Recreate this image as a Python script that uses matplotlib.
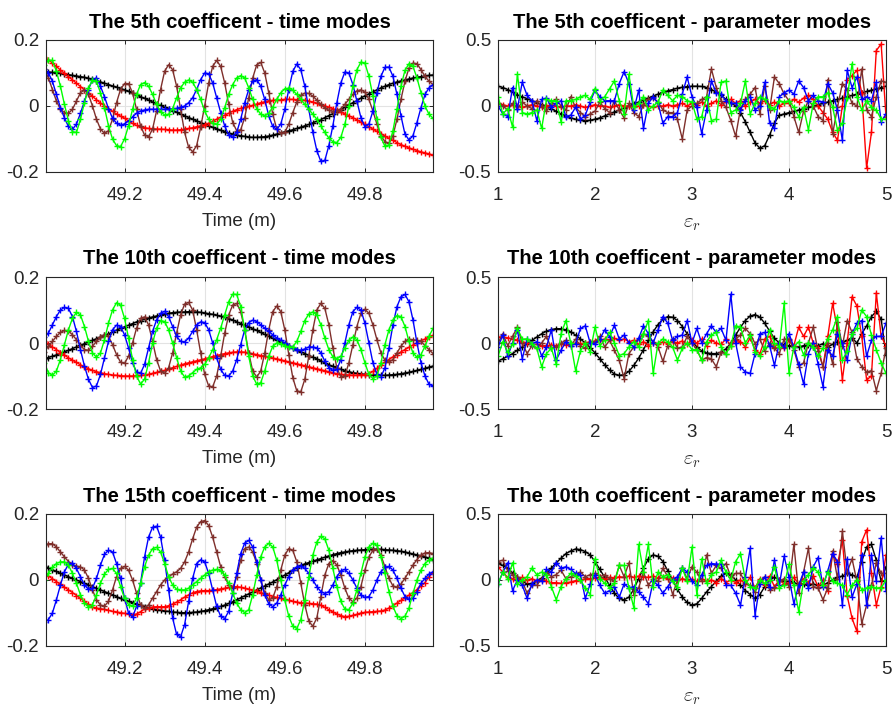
import numpy as np
import matplotlib
matplotlib.use("Agg")
import matplotlib.pyplot as plt

plt.rcParams['font.family'] = ['Liberation Sans', 'DejaVu Sans']
plt.rcParams['mathtext.fontset'] = 'cm'

# sample grids
time_m = np.round(49.0 + 0.01 * np.arange(98), 2)
eps_r = np.round(1.0 + 0.05 * np.arange(81), 2)

# ---- 5th coefficient, time modes ----
black5t = [
    0.104, 0.103, 0.102, 0.101, 0.099, 0.097, 0.095, 0.093, 0.091, 0.089,
    0.087, 0.084, 0.081, 0.077, 0.073, 0.069, 0.065, 0.061, 0.057, 0.053,
    0.049, 0.044, 0.039, 0.034, 0.028, 0.023, 0.018, 0.012, 0.007, 0.002,
    -0.004, -0.009, -0.014, -0.019, -0.025, -0.030, -0.035, -0.040, -0.045, -0.050,
    -0.055, -0.060, -0.065, -0.069, -0.074, -0.078, -0.082, -0.085, -0.088, -0.090,
    -0.092, -0.094, -0.095, -0.095, -0.094, -0.093, -0.091, -0.088, -0.085, -0.082,
    -0.078, -0.075, -0.072, -0.068, -0.064, -0.060, -0.056, -0.051, -0.046, -0.041,
    -0.035, -0.029, -0.023, -0.017, -0.011, -0.004, 0.004, 0.010, 0.016, 0.024,
    0.031, 0.037, 0.043, 0.049, 0.055, 0.060, 0.065, 0.069, 0.073, 0.076,
    0.079, 0.082, 0.085, 0.087, 0.089, 0.091, 0.093, 0.094]
red5t = [
    0.148, 0.140, 0.130, 0.120, 0.109, 0.099, 0.089, 0.079, 0.069, 0.059,
    0.049, 0.039, 0.029, 0.019, 0.009, 0.000, -0.008, -0.016, -0.024, -0.031,
    -0.037, -0.045, -0.053, -0.059, -0.063, -0.066, -0.068, -0.069, -0.070, -0.070,
    -0.071, -0.072, -0.073, -0.073, -0.072, -0.070, -0.068, -0.066, -0.063, -0.060,
    -0.057, -0.052, -0.046, -0.040, -0.034, -0.028, -0.022, -0.016, -0.011, -0.007,
    -0.004, -0.001, 0.002, 0.006, 0.010, 0.013, 0.016, 0.017, 0.018, 0.019,
    0.020, 0.020, 0.020, 0.019, 0.018, 0.017, 0.015, 0.012, 0.008, 0.004,
    0.000, -0.004, -0.008, -0.013, -0.018, -0.024, -0.030, -0.035, -0.042, -0.049,
    -0.056, -0.063, -0.070, -0.077, -0.084, -0.091, -0.098, -0.104, -0.111, -0.117,
    -0.122, -0.127, -0.131, -0.135, -0.139, -0.142, -0.145, -0.149]
blue5t = [
    0.111, 0.100, 0.075, 0.035, -0.005, -0.036, -0.062, -0.071, -0.055, -0.022,
    0.015, 0.050, 0.080, 0.085, 0.060, 0.028, -0.008, -0.037, -0.052, -0.058,
    -0.054, -0.045, -0.033, -0.022, -0.015, -0.012, -0.010, -0.010, -0.010, -0.010,
    -0.010, -0.010, -0.009, -0.007, -0.004, 0.000, 0.010, 0.025, 0.050, 0.080,
    0.100, 0.098, 0.070, 0.025, -0.020, -0.060, -0.088, -0.095, -0.080, -0.040,
    0.010, 0.050, 0.075, 0.080, 0.060, 0.020, -0.030, -0.062, -0.071, -0.055,
    -0.010, 0.050, 0.105, 0.127, 0.110, 0.060, -0.010, -0.080, -0.135, -0.168,
    -0.165, -0.120, -0.060, 0.010, 0.070, 0.103, 0.100, 0.065, 0.015, -0.035,
    -0.063, -0.055, -0.015, 0.040, 0.090, 0.117, 0.118, 0.090, 0.035, -0.030,
    -0.085, -0.103, -0.090, -0.050, -0.005, 0.035, 0.055, 0.064]
green5t = [
    0.125, 0.138, 0.138, 0.105, 0.060, 0.005, -0.045, -0.078, -0.080, -0.040,
    0.010, 0.055, 0.078, 0.075, 0.040, -0.005, -0.060, -0.100, -0.120, -0.123,
    -0.100, -0.060, -0.010, 0.035, 0.065, 0.071, 0.060, 0.035, 0.005, -0.018,
    -0.027, -0.025, -0.008, 0.025, 0.055, 0.072, 0.079, 0.072, 0.050, 0.020,
    -0.015, -0.040, -0.053, -0.056, -0.040, -0.005, 0.035, 0.065, 0.085, 0.092,
    0.085, 0.055, 0.020, -0.008, -0.025, -0.030, -0.022, -0.003, 0.020, 0.040,
    0.052, 0.054, 0.048, 0.035, 0.020, 0.005, -0.010, -0.025, -0.040, -0.060,
    -0.080, -0.097, -0.108, -0.111, -0.095, -0.055, 0.000, 0.060, 0.110, 0.133,
    0.130, 0.090, 0.030, -0.040, -0.095, -0.122, -0.118, -0.075, -0.010, 0.060,
    0.108, 0.128, 0.120, 0.085, 0.040, 0.000, -0.025, -0.037]
brown5t = [
    0.112, 0.085, 0.050, 0.015, -0.010, -0.020, -0.022, -0.010, 0.015, 0.040,
    0.049, 0.035, 0.000, -0.040, -0.070, -0.083, -0.075, -0.040, 0.010, 0.050,
    0.068, 0.068, 0.040, -0.010, -0.060, -0.088, -0.093, -0.070, -0.015, 0.050,
    0.105, 0.125, 0.110, 0.060, -0.010, -0.080, -0.125, -0.139, -0.120, -0.065,
    0.000, 0.070, 0.120, 0.138, 0.120, 0.070, 0.005, -0.050, -0.075, -0.072,
    -0.035, 0.025, 0.085, 0.125, 0.132, 0.100, 0.040, -0.025, -0.070, -0.083,
    -0.080, -0.055, -0.020, 0.012, 0.032, 0.039, 0.038, 0.030, 0.018, 0.005,
    -0.006, -0.013, -0.017, -0.015, -0.008, 0.005, 0.020, 0.035, 0.046, 0.049,
    0.042, 0.020, -0.015, -0.055, -0.090, -0.108, -0.113, -0.090, -0.040, 0.020,
    0.075, 0.115, 0.130, 0.128, 0.110, 0.090, 0.075, 0.065]

# ---- 10th coefficient, time modes ----
black10t = [
    -0.048, -0.044, -0.040, -0.036, -0.031, -0.027, -0.022, -0.017, -0.012, -0.007,
    -0.002, 0.003, 0.008, 0.013, 0.018, 0.023, 0.028, 0.033, 0.039, 0.044,
    0.049, 0.054, 0.059, 0.064, 0.068, 0.072, 0.076, 0.079, 0.082, 0.085,
    0.088, 0.090, 0.092, 0.093, 0.094, 0.094, 0.095, 0.094, 0.094, 0.093,
    0.091, 0.089, 0.087, 0.084, 0.081, 0.078, 0.074, 0.070, 0.064, 0.059,
    0.054, 0.049, 0.043, 0.038, 0.032, 0.026, 0.020, 0.014, 0.008, 0.002,
    -0.004, -0.010, -0.016, -0.022, -0.027, -0.032, -0.038, -0.043, -0.048, -0.054,
    -0.060, -0.066, -0.071, -0.076, -0.080, -0.084, -0.087, -0.090, -0.092, -0.094,
    -0.095, -0.096, -0.097, -0.098, -0.098, -0.098, -0.097, -0.096, -0.095, -0.093,
    -0.091, -0.089, -0.086, -0.083, -0.080, -0.077, -0.073, -0.070]
red10t = [
    0.006, -0.003, -0.012, -0.020, -0.029, -0.037, -0.045, -0.052, -0.059, -0.066,
    -0.073, -0.078, -0.083, -0.087, -0.090, -0.093, -0.095, -0.097, -0.098, -0.099,
    -0.100, -0.100, -0.100, -0.099, -0.098, -0.097, -0.095, -0.092, -0.089, -0.086,
    -0.083, -0.079, -0.075, -0.071, -0.067, -0.063, -0.060, -0.057, -0.054, -0.051,
    -0.048, -0.045, -0.041, -0.038, -0.035, -0.032, -0.030, -0.028, -0.027, -0.027,
    -0.028, -0.030, -0.033, -0.035, -0.038, -0.040, -0.043, -0.046, -0.048, -0.051,
    -0.054, -0.057, -0.060, -0.063, -0.066, -0.069, -0.072, -0.075, -0.078, -0.081,
    -0.084, -0.087, -0.090, -0.093, -0.095, -0.096, -0.097, -0.098, -0.098, -0.097,
    -0.096, -0.093, -0.086, -0.077, -0.067, -0.058, -0.050, -0.042, -0.035, -0.027,
    -0.020, -0.013, -0.006, 0.001, 0.007, 0.012, 0.018, 0.023]
blue10t = [
    0.018, 0.030, 0.055, 0.080, 0.100, 0.108, 0.105, 0.080, 0.035, -0.020,
    -0.070, -0.110, -0.135, -0.130, -0.095, -0.045, 0.005, 0.040, 0.054, 0.050,
    0.025, -0.015, -0.060, -0.088, -0.092, -0.065, -0.015, 0.035, 0.070, 0.090,
    0.096, 0.080, 0.050, 0.020, 0.005, 0.003, 0.015, 0.035, 0.055, 0.064,
    0.062, 0.040, 0.000, -0.045, -0.080, -0.098, -0.100, -0.085, -0.050, -0.005,
    0.040, 0.062, 0.069, 0.065, 0.055, 0.045, 0.035, 0.025, 0.015, 0.008,
    0.000, -0.008, -0.015, -0.020, -0.022, -0.018, -0.012, -0.012, -0.015, -0.030,
    -0.055, -0.075, -0.083, -0.080, -0.050, 0.000, 0.055, 0.095, 0.108, 0.100,
    0.060, 0.000, -0.060, -0.095, -0.103, -0.075, -0.015, 0.055, 0.110, 0.140,
    0.147, 0.125, 0.070, 0.000, -0.060, -0.100, -0.125, -0.130]
green10t = [
    -0.060, -0.090, -0.098, -0.085, -0.050, -0.005, 0.040, 0.075, 0.093, 0.085,
    0.050, 0.005, -0.030, -0.043, -0.030, 0.010, 0.060, 0.100, 0.122, 0.115,
    0.075, 0.015, -0.050, -0.100, -0.124, -0.110, -0.060, 0.000, 0.045, 0.068,
    0.065, 0.040, 0.000, -0.045, -0.085, -0.103, -0.100, -0.090, -0.080, -0.075,
    -0.065, -0.045, -0.020, 0.010, 0.045, 0.085, 0.125, 0.148, 0.147, 0.110,
    0.040, -0.040, -0.100, -0.125, -0.120, -0.085, -0.040, -0.010, 0.000, -0.002,
    -0.008, -0.012, -0.012, 0.005, 0.035, 0.068, 0.088, 0.094, 0.085, 0.055,
    0.015, -0.020, -0.042, -0.048, -0.040, -0.015, 0.008, 0.018, 0.010, -0.020,
    -0.060, -0.095, -0.108, -0.100, -0.060, -0.005, 0.040, 0.070, 0.083, 0.080,
    0.050, 0.005, -0.030, -0.043, -0.035, -0.010, 0.020, 0.044]
brown10t = [
    -0.027, -0.010, 0.005, 0.020, 0.032, 0.038, 0.036, 0.025, 0.010, -0.008,
    -0.020, -0.022, -0.010, 0.005, 0.018, 0.025, 0.020, -0.005, -0.035, -0.058,
    -0.062, -0.040, 0.000, 0.045, 0.075, 0.079, 0.055, 0.005, -0.050, -0.085,
    -0.092, -0.075, -0.030, 0.030, 0.085, 0.118, 0.123, 0.100, 0.040, -0.030,
    -0.095, -0.130, -0.133, -0.100, -0.040, 0.030, 0.085, 0.115, 0.120, 0.095,
    0.040, -0.030, -0.085, -0.103, -0.085, -0.030, 0.040, 0.095, 0.112, 0.095,
    0.040, -0.035, -0.105, -0.145, -0.148, -0.110, -0.040, 0.040, 0.100, 0.120,
    0.105, 0.055, -0.015, -0.075, -0.103, -0.100, -0.060, -0.005, 0.050, 0.090,
    0.102, 0.090, 0.055, 0.010, -0.030, -0.052, -0.058, -0.050, -0.030, -0.010,
    0.005, 0.011, 0.010, 0.008, 0.005, -0.008, -0.020, -0.032]

# ---- 15th coefficient, time modes ----
black15t = [
    0.041, 0.036, 0.031, 0.026, 0.020, 0.015, 0.010, 0.005, 0.000, -0.005,
    -0.010, -0.015, -0.020, -0.025, -0.030, -0.035, -0.040, -0.045, -0.050, -0.056,
    -0.061, -0.065, -0.069, -0.073, -0.077, -0.081, -0.084, -0.087, -0.090, -0.092,
    -0.094, -0.095, -0.097, -0.098, -0.099, -0.099, -0.099, -0.098, -0.097, -0.095,
    -0.093, -0.090, -0.087, -0.084, -0.080, -0.076, -0.071, -0.066, -0.060, -0.054,
    -0.048, -0.042, -0.036, -0.030, -0.024, -0.018, -0.012, -0.006, 0.001, 0.008,
    0.015, 0.022, 0.030, 0.037, 0.044, 0.049, 0.053, 0.057, 0.061, 0.065,
    0.069, 0.073, 0.077, 0.080, 0.083, 0.085, 0.087, 0.089, 0.090, 0.091,
    0.092, 0.093, 0.093, 0.093, 0.093, 0.092, 0.091, 0.090, 0.089, 0.087,
    0.085, 0.082, 0.079, 0.076, 0.073, 0.070, 0.066, 0.061]
red15t = [
    0.020, 0.012, 0.004, -0.005, -0.013, -0.022, -0.030, -0.038, -0.047, -0.056,
    -0.065, -0.074, -0.082, -0.085, -0.087, -0.089, -0.092, -0.095, -0.097, -0.099,
    -0.101, -0.103, -0.105, -0.103, -0.096, -0.088, -0.084, -0.082, -0.081, -0.081,
    -0.081, -0.078, -0.073, -0.067, -0.060, -0.052, -0.045, -0.039, -0.035, -0.033,
    -0.032, -0.032, -0.031, -0.029, -0.027, -0.025, -0.022, -0.020, -0.020, -0.022,
    -0.025, -0.028, -0.031, -0.034, -0.038, -0.042, -0.046, -0.050, -0.053, -0.056,
    -0.059, -0.062, -0.065, -0.067, -0.069, -0.070, -0.071, -0.072, -0.073, -0.077,
    -0.083, -0.090, -0.097, -0.103, -0.108, -0.111, -0.110, -0.107, -0.104, -0.100,
    -0.098, -0.097, -0.096, -0.095, -0.094, -0.091, -0.085, -0.078, -0.070, -0.062,
    -0.054, -0.046, -0.038, -0.029, -0.019, -0.008, 0.010, 0.022]
blue15t = [
    -0.127, -0.120, -0.100, -0.060, -0.015, 0.025, 0.048, 0.051, 0.035, 0.010,
    -0.015, -0.028, -0.025, 0.005, 0.045, 0.078, 0.090, 0.085, 0.050, 0.005,
    -0.055, -0.100, -0.113, -0.080, -0.010, 0.070, 0.130, 0.160, 0.163, 0.130,
    0.060, -0.030, -0.115, -0.165, -0.172, -0.135, -0.065, 0.005, 0.050, 0.061,
    0.055, 0.020, -0.030, -0.080, -0.110, -0.117, -0.095, -0.040, 0.020, 0.080,
    0.112, 0.120, 0.100, 0.055, 0.000, -0.045, -0.072, -0.081, -0.070, -0.045,
    -0.015, 0.010, 0.030, 0.040, 0.043, 0.035, 0.020, 0.000, -0.020, -0.035,
    -0.041, -0.035, -0.015, 0.010, 0.028, 0.032, 0.020, 0.000, -0.025, -0.045,
    -0.053, -0.050, -0.030, 0.000, 0.025, 0.038, 0.041, 0.030, 0.005, -0.025,
    -0.050, -0.059, -0.055, -0.035, -0.010, 0.005, 0.018, 0.025]
green15t = [
    0.000, 0.020, 0.038, 0.050, 0.055, 0.055, 0.045, 0.020, -0.010, -0.045,
    -0.070, -0.081, -0.075, -0.045, -0.010, 0.018, 0.032, 0.035, 0.020, -0.020,
    -0.055, -0.075, -0.079, -0.055, -0.010, 0.040, 0.075, 0.095, 0.099, 0.085,
    0.050, 0.010, -0.015, -0.028, -0.030, -0.030, -0.025, -0.015, -0.005, 0.005,
    0.015, 0.025, 0.030, 0.032, 0.028, 0.015, -0.010, -0.040, -0.070, -0.090,
    -0.099, -0.090, -0.045, 0.015, 0.070, 0.100, 0.111, 0.100, 0.060, 0.000,
    -0.060, -0.110, -0.140, -0.147, -0.120, -0.060, 0.010, 0.075, 0.115, 0.132,
    0.125, 0.090, 0.035, -0.020, -0.065, -0.088, -0.090, -0.070, -0.030, 0.020,
    0.070, 0.100, 0.111, 0.105, 0.070, 0.020, -0.035, -0.080, -0.108, -0.117,
    -0.110, -0.085, -0.040, 0.000, 0.030, 0.050, 0.060, 0.066]
brown15t = [
    0.106, 0.110, 0.110, 0.100, 0.085, 0.070, 0.056, 0.046, 0.042, 0.040,
    0.030, 0.005, -0.030, -0.060, -0.076, -0.079, -0.065, -0.030, 0.010, 0.035,
    0.041, 0.030, 0.000, -0.040, -0.075, -0.086, -0.075, -0.055, -0.035, -0.015,
    0.000, 0.010, 0.018, 0.025, 0.035, 0.055, 0.085, 0.125, 0.160, 0.177,
    0.180, 0.165, 0.130, 0.085, 0.040, 0.010, -0.015, -0.025, 0.010, 0.060,
    0.095, 0.100, 0.085, 0.050, 0.000, -0.040, -0.060, -0.055, -0.020, 0.030,
    0.075, 0.095, 0.090, 0.055, -0.010, -0.075, -0.125, -0.140, -0.115, -0.050,
    0.015, 0.050, 0.059, 0.045, 0.015, -0.025, -0.055, -0.066, -0.055, -0.020,
    0.030, 0.070, 0.090, 0.093, 0.075, 0.040, 0.005, -0.018, -0.022, -0.012,
    0.005, 0.025, 0.045, 0.062, 0.075, 0.082, 0.083, 0.080]

# ---- 5th coefficient, parameter modes ----
black5p = [
    0.15, 0.14, 0.125, 0.105, 0.085, 0.07, 0.055, 0.04, 0.025, 0.01,
    0.0, -0.02, -0.04, -0.06, -0.075, -0.09, -0.1, -0.107, -0.11, -0.108,
    -0.1, -0.09, -0.075, -0.06, -0.045, -0.03, -0.015, 0.0, 0.015, 0.03,
    0.045, 0.06, 0.075, 0.09, 0.105, 0.115, 0.125, 0.135, 0.142, 0.147,
    0.15, 0.15, 0.148, 0.14, 0.125, 0.105, 0.08, 0.05, 0.025, 0.0,
    -0.05, -0.12, -0.2, -0.28, -0.32, -0.3, -0.22, -0.13, -0.07, -0.06,
    -0.05, -0.04, -0.03, -0.02, -0.01, 0.0, 0.01, 0.02, 0.03, 0.04,
    0.05, 0.06, 0.07, 0.08, 0.09, 0.1, 0.11, 0.12, 0.13, 0.14,
    0.15]
red5p = [
    0.02, 0.01, 0.0, 0.01, 0.0, -0.01, 0.0, 0.01, 0.0, -0.01,
    0.0, 0.01, 0.0, -0.01, 0.0, 0.0, 0.01, 0.0, -0.01, 0.0,
    0.01, 0.0, 0.0, -0.01, 0.0, 0.01, 0.0, 0.0, -0.01, 0.0,
    0.01, 0.0, -0.01, 0.0, 0.0, 0.01, 0.0, 0.01, 0.02, 0.0,
    0.02, 0.01, 0.03, 0.0, 0.02, 0.04, 0.01, 0.03, 0.05, 0.02,
    0.04, 0.0, 0.03, 0.05, 0.02, 0.04, 0.01, 0.03, 0.0, 0.02,
    0.02, 0.05, 0.03, 0.06, 0.08, 0.05, 0.0, -0.05, -0.1, -0.2,
    -0.26, 0.0, 0.2, 0.23, 0.27, 0.1, -0.47, -0.2, 0.42, 0.47,
    -0.08]
blue5p = [
    0.0, -0.06, -0.08, 0.14, -0.02, 0.18, 0.08, 0.04, -0.11, 0.05,
    0.06, -0.01, 0.02, 0.04, -0.08, -0.07, -0.01, -0.1, -0.07, 0.03,
    0.12, 0.07, 0.04, 0.04, 0.04, 0.17, 0.26, 0.17, -0.03, 0.12,
    -0.17, 0.02, 0.07, 0.02, -0.13, -0.08, -0.08, -0.05, 0.09, 0.22,
    0.07, -0.01, -0.21, -0.03, 0.19, 0.1, 0.09, 0.04, 0.02, 0.02,
    -0.03, 0.04, 0.07, -0.03, 0.0, 0.18, -0.13, -0.17, 0.07, 0.1,
    0.12, 0.09, 0.19, 0.14, 0.04, 0.08, 0.04, 0.03, 0.17, 0.1,
    -0.03, -0.26, 0.27, 0.14, 0.22, 0.05, 0.07, 0.04, 0.18, -0.12,
    -0.06]
green5p = [
    0.07, -0.06, -0.02, -0.16, 0.24, -0.05, -0.06, -0.05, -0.03, -0.17,
    0.05, 0.04, 0.04, -0.12, 0.04, 0.04, 0.05, 0.07, 0.08, 0.05,
    0.13, 0.04, 0.07, 0.13, 0.19, 0.04, -0.06, 0.24, -0.01, 0.02,
    0.07, -0.03, 0.0, 0.03, 0.12, 0.08, 0.04, 0.08, 0.07, 0.04,
    0.03, -0.1, -0.08, 0.07, -0.11, -0.1, 0.18, 0.19, -0.05, -0.03,
    0.02, 0.19, -0.06, 0.02, 0.07, 0.05, -0.01, -0.02, 0.04, 0.03,
    0.04, -0.01, -0.08, -0.01, -0.18, 0.02, 0.07, 0.07, 0.1, -0.01,
    -0.18, -0.13, 0.06, 0.32, 0.07, -0.03, 0.04, -0.01, -0.03, -0.1,
    -0.1]
brown5p = [
    0.02, 0.0, -0.03, 0.02, -0.02, 0.03, 0.0, -0.02, 0.04, 0.0,
    -0.04, 0.02, 0.05, 0.0, -0.03, 0.07, -0.01, -0.05, -0.08, -0.06,
    -0.04, 0.03, -0.02, -0.05, 0.04, -0.03, -0.09, 0.02, -0.05, -0.08,
    0.01, 0.05, 0.06, 0.03, -0.03, -0.05, -0.05, -0.1, -0.25, -0.03,
    0.0, 0.02, 0.05, 0.07, 0.28, 0.14, 0.04, -0.01, -0.11, -0.23,
    -0.02, 0.05, 0.09, 0.14, -0.06, 0.15, -0.03, 0.22, 0.17, 0.09,
    0.04, -0.08, -0.2, -0.04, 0.04, 0.0, -0.08, -0.11, 0.2, -0.21,
    -0.01, 0.17, 0.12, 0.02, 0.0, 0.28, -0.03, -0.08, 0.07, 0.19,
    0.18]

# ---- 10th coefficient, parameter modes ----
black10p = [
    -0.137, -0.12, -0.1, -0.08, -0.055, -0.03, -0.005, 0.02, 0.045, 0.07,
    0.09, 0.102, 0.109, 0.108, 0.1, 0.085, 0.06, 0.03, 0.0, -0.035,
    -0.075, -0.12, -0.165, -0.205, -0.235, -0.245, -0.24, -0.215, -0.17, -0.115,
    -0.05, 0.02, 0.085, 0.14, 0.18, 0.2, 0.195, 0.17, 0.125, 0.07,
    0.015, -0.03, -0.06, -0.075, -0.08, -0.08, -0.07, -0.045, 0.0, 0.06,
    0.12, 0.17, 0.205, 0.215, 0.195, 0.15, 0.09, 0.035, 0.0, -0.015,
    -0.02, -0.025, -0.03, -0.02, -0.015, -0.03, -0.02, -0.005, -0.03, -0.01,
    0.01, 0.0, 0.02, 0.04, 0.0, 0.07, 0.13, 0.2, 0.24, 0.18,
    -0.09]
red10p = [
    0.045, 0.045, 0.04, 0.03, 0.02, 0.01, 0.0, -0.01, -0.01, -0.02,
    -0.02, -0.015, -0.02, -0.01, -0.015, -0.01, 0.0, -0.005, 0.0, 0.01,
    0.015, 0.02, 0.03, 0.025, 0.035, 0.02, 0.03, 0.01, 0.02, -0.01,
    0.01, -0.02, 0.0, -0.01, 0.01, -0.005, 0.01, 0.0, 0.015, -0.01,
    0.02, 0.0, 0.03, -0.02, 0.02, 0.0, -0.01, 0.03, -0.02, 0.02,
    0.01, -0.03, 0.04, -0.05, -0.08, 0.03, 0.05, -0.03, 0.0, -0.04,
    0.02, -0.02, 0.12, 0.05, 0.12, 0.0, -0.04, -0.18, 0.05, 0.3,
    0.1, -0.28, 0.0, 0.35, 0.28, 0.05, -0.28, -0.25, 0.38, 0.05,
    -0.02]
blue10p = [
    -0.03, 0.06, -0.1, 0.0, 0.1, -0.12, 0.03, -0.005, 0.01, -0.1,
    -0.03, 0.1, -0.13, -0.055, 0.01, -0.02, -0.005, 0.11, 0.13, 0.0,
    -0.005, 0.03, 0.1, 0.045, 0.135, 0.03, 0.06, 0.0, -0.03, 0.035,
    0.13, 0.07, 0.0, 0.1, 0.2, 0.15, 0.02, 0.05, 0.06, 0.17,
    0.0, 0.11, 0.0, 0.07, 0.13, 0.08, 0.11, 0.02, 0.37, 0.0,
    -0.18, -0.22, -0.23, -0.08, 0.07, 0.08, -0.02, -0.17, 0.0, -0.03,
    0.07, -0.03, -0.16, -0.31, -0.08, 0.0, -0.16, -0.33, -0.05, -0.1,
    0.07, 0.0, -0.13, 0.07, 0.15, 0.17, -0.1, 0.02, 0.05, 0.05,
    0.15]
green10p = [
    -0.1, 0.01, -0.07, -0.01, 0.11, 0.03, 0.03, -0.005, -0.04, -0.18,
    -0.08, -0.04, -0.16, 0.07, 0.17, 0.0, -0.21, -0.06, 0.0, -0.07,
    0.12, -0.02, 0.02, 0.08, 0.0, -0.095, -0.08, -0.03, 0.01, -0.03,
    0.07, 0.17, -0.23, 0.0, 0.03, 0.01, -0.03, -0.13, -0.04, 0.0,
    -0.05, -0.05, -0.13, 0.01, 0.06, 0.08, -0.03, -0.08, -0.02, 0.13,
    0.12, 0.0, 0.06, -0.07, -0.1, -0.03, 0.1, 0.0, -0.03, 0.3,
    -0.23, -0.03, 0.01, -0.09, 0.0, -0.03, -0.1, -0.04, 0.03, 0.1,
    0.2, -0.13, -0.06, 0.07, 0.11, 0.25, 0.2, 0.06, -0.05, -0.15,
    -0.23]
brown10p = [
    0.0, 0.07, -0.02, 0.05, 0.12, 0.0, -0.08, -0.02, -0.04, 0.0,
    0.05, -0.04, -0.03, 0.0, 0.02, -0.02, 0.03, -0.02, -0.04, 0.01,
    0.01, 0.05, -0.03, 0.02, -0.055, -0.13, -0.27, -0.08, -0.03, 0.03,
    0.07, 0.05, 0.01, -0.03, -0.14, -0.02, 0.03, -0.04, -0.03, 0.05,
    0.0, -0.05, -0.13, -0.11, -0.12, -0.18, -0.07, -0.08, 0.0, 0.03,
    0.06, 0.11, 0.07, -0.005, 0.03, -0.06, 0.0, -0.04, -0.08, 0.03,
    0.03, -0.05, -0.18, -0.15, 0.0, 0.12, -0.06, -0.18, 0.0, -0.16,
    0.16, -0.02, 0.17, 0.08, -0.12, -0.18, -0.22, -0.21, -0.36, -0.23,
    -0.04]

# ---- third row, parameter modes ----
black15p = [
    0.127, 0.11, 0.09, 0.055, 0.02, -0.01, -0.03, -0.025, -0.01, 0.015,
    0.05, 0.09, 0.13, 0.165, 0.2, 0.22, 0.235, 0.23, 0.215, 0.19,
    0.14, 0.08, 0.02, -0.04, -0.1, -0.14, -0.15, -0.13, -0.07, 0.01,
    0.09, 0.16, 0.19, 0.18, 0.14, 0.07, 0.0, -0.07, -0.13, -0.17,
    -0.19, -0.18, -0.14, -0.09, -0.05, -0.01, 0.03, 0.05, 0.04, 0.0,
    -0.04, -0.08, -0.11, -0.14, -0.11, -0.05, 0.0, 0.02, 0.0, -0.01,
    -0.01, -0.02, -0.03, -0.03, -0.04, -0.03, -0.04, -0.04, -0.02, 0.0,
    0.02, 0.03, 0.05, 0.04, 0.02, 0.14, 0.25, 0.27, 0.15, -0.01,
    0.1]
red15p = [
    0.1, 0.06, 0.02, 0.01, 0.0, 0.02, 0.0, 0.01, -0.01, 0.0,
    -0.01, -0.02, -0.02, -0.025, -0.02, -0.015, -0.005, 0.0, 0.01, 0.01,
    0.015, 0.02, 0.01, 0.02, 0.015, 0.025, 0.02, 0.03, 0.02, 0.03,
    0.025, 0.02, 0.03, 0.015, 0.02, 0.01, 0.015, 0.0, 0.01, 0.0,
    0.005, -0.01, 0.01, -0.01, 0.0, -0.02, 0.01, -0.02, 0.0, -0.02,
    0.0, -0.03, 0.02, -0.06, 0.01, -0.04, 0.03, -0.05, 0.0, -0.03,
    -0.02, 0.02, -0.03, 0.01, -0.02, 0.03, -0.05, 0.0, -0.08, 0.2,
    0.12, 0.3, -0.12, -0.29, -0.39, 0.29, 0.38, 0.05, -0.19, -0.05,
    0.19]
blue15p = [
    -0.03, 0.06, 0.13, -0.08, 0.0, -0.04, -0.14, -0.03, 0.0, -0.01,
    0.08, 0.06, 0.13, 0.09, 0.1, 0.08, 0.05, 0.04, -0.14, -0.03,
    0.04, -0.04, -0.1, -0.08, -0.05, -0.13, -0.03, -0.06, -0.05, -0.09,
    -0.13, -0.18, -0.01, -0.04, -0.1, -0.05, 0.0, 0.025, 0.09, 0.06,
    -0.01, -0.04, 0.04, 0.11, 0.125, 0.12, 0.12, -0.04, -0.04, -0.1,
    -0.19, 0.02, 0.24, -0.27, -0.03, 0.02, -0.05, 0.15, -0.04, 0.18,
    0.02, -0.18, -0.04, 0.06, -0.06, 0.1, 0.17, -0.05, 0.07, 0.2,
    0.14, -0.19, 0.16, -0.13, -0.03, 0.19, -0.19, 0.19, -0.01, 0.32,
    -0.08]
green15p = [
    -0.03, 0.06, 0.01, 0.13, -0.03, 0.0, 0.025, 0.09, 0.04, 0.06,
    0.04, -0.05, -0.15, -0.05, 0.01, 0.05, 0.03, 0.0, -0.06, -0.11,
    0.16, 0.01, -0.025, -0.06, -0.025, 0.11, 0.11, -0.06, -0.21, 0.27,
    0.06, 0.27, -0.05, 0.06, 0.025, 0.04, -0.01, -0.05, 0.09, -0.01,
    0.25, -0.11, 0.16, -0.025, 0.04, 0.06, 0.15, 0.06, 0.0, 0.14,
    0.2, 0.0, -0.05, -0.06, 0.0, -0.025, 0.0, 0.1, -0.06, -0.04,
    0.12, -0.04, -0.24, -0.01, 0.04, 0.09, 0.06, -0.04, 0.06, -0.01,
    -0.025, -0.04, -0.11, -0.04, 0.0, -0.075, -0.06, -0.05, -0.06, -0.06,
    0.0]
brown15p = [
    0.14, 0.15, 0.07, 0.04, 0.025, -0.01, -0.1, -0.04, -0.04, 0.01,
    0.06, 0.025, 0.04, 0.075, 0.01, 0.025, 0.04, 0.06, 0.025, 0.04,
    0.05, 0.025, 0.04, 0.01, -0.01, 0.11, 0.025, 0.13, -0.11, -0.06,
    0.06, -0.04, 0.01, -0.01, 0.09, 0.025, -0.11, 0.0, 0.09, 0.01,
    0.1, 0.06, -0.01, 0.19, 0.05, 0.11, 0.09, 0.125, 0.025, 0.05,
    0.05, -0.025, -0.04, -0.09, -0.01, 0.025, -0.075, -0.06, -0.01, 0.01,
    -0.05, 0.27, -0.1, 0.06, 0.24, -0.05, -0.06, -0.15, -0.06, 0.22,
    0.01, 0.37, 0.06, 0.16, -0.01, -0.33, -0.19, -0.04, 0.13, 0.05,
    0.05]

titles_left = ["The 5th coefficent - time modes",
               "The 10th coefficent - time modes",
               "The 15th coefficent - time modes"]
titles_right = ["The 5th coefficent - parameter modes",
                "The 10th coefficent - parameter modes",
                "The 10th coefficent - parameter modes"]

BROWN = '#7f2f2b'
colors = ['k', 'r', BROWN, 'b', (0, 1, 0)]

left_sets = [
    [black5t, red5t, brown5t, blue5t, green5t],
    [black10t, red10t, brown10t, blue10t, green10t],
    [black15t, red15t, brown15t, blue15t, green15t],
]
right_sets = [
    [black5p, red5p, brown5p, blue5p, green5p],
    [black10p, red10p, brown10p, blue10p, green10p],
    [black15p, red15p, brown15p, blue15p, green15p],
]

fig = plt.figure(figsize=(8.92, 7.13), dpi=100)

W, H = 892.0, 713.0
row_tops = [40, 277, 514]
ax_h = 132


def style_axes(ax):
    ax.grid(True, color='#e3e3e3', linewidth=0.8)
    ax.set_axisbelow(True)
    for sp in ax.spines.values():
        sp.set_color('#262626')
        sp.set_linewidth(0.8)
    ax.tick_params(direction='in', length=3, width=0.7, top=True, right=True,
                   labelsize=13.5, colors='#262626', labelcolor='#262626')
    ax.tick_params(axis='x', pad=11)
    ax.tick_params(axis='y', pad=5)


for r in range(3):
    bottom = (H - row_tops[r] - ax_h) / H

    # time modes
    ax = fig.add_axes([46 / W, bottom, 387 / W, ax_h / H])
    for y, c in zip(left_sets[r], colors):
        ax.plot(time_m, y, color=c, marker='+', linewidth=1.0,
                markersize=5, markeredgewidth=1.0)
    ax.set_xlim(49.004, 49.97)
    ax.set_ylim(-0.2, 0.2)
    ax.set_xticks([49.2, 49.4, 49.6, 49.8])
    ax.set_xticklabels(['49.2', '49.4', '49.6', '49.8'])
    ax.set_yticks([-0.2, 0, 0.2])
    ax.set_yticklabels(['-0.2', '0', '0.2'])
    style_axes(ax)
    ax.set_title(titles_left[r], fontsize=14.5, fontweight='bold', pad=9)
    ax.set_xlabel('Time (m)', fontsize=13.5, color='#262626', labelpad=6)

    # parameter modes
    ax = fig.add_axes([498 / W, bottom, 388 / W, ax_h / H])
    for y, c in zip(right_sets[r], colors):
        ax.plot(eps_r, y, color=c, marker='+', linewidth=1.0,
                markersize=5, markeredgewidth=1.0)
    ax.set_xlim(1, 5)
    ax.set_ylim(-0.5, 0.5)
    ax.set_xticks([1, 2, 3, 4, 5])
    ax.set_yticks([-0.5, 0, 0.5])
    ax.set_yticklabels(['-0.5', '0', '0.5'])
    style_axes(ax)
    ax.set_title(titles_right[r], fontsize=14.5, fontweight='bold', pad=9)
    ax.set_xlabel(r'$\varepsilon_r$', fontsize=15, color='#262626', labelpad=7)

fig.savefig('out.png', dpi=100)
